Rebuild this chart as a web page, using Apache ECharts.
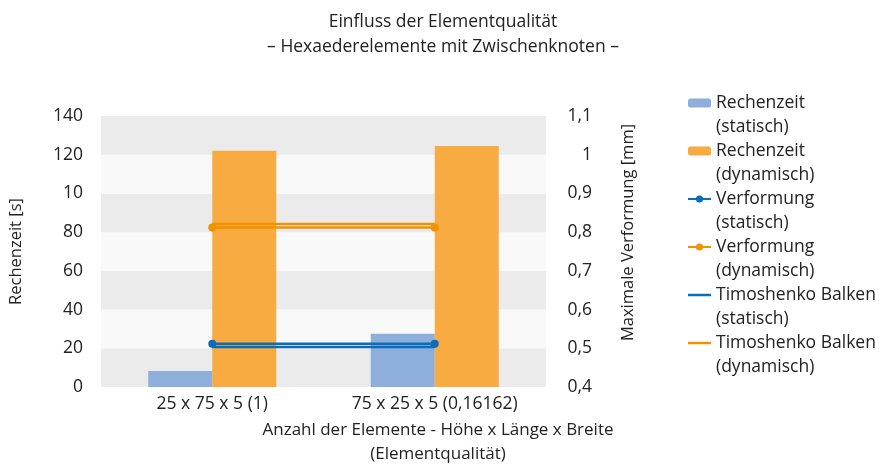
<!DOCTYPE html>
<html>
<head>
<meta charset="utf-8">
<script src="https://cdn.jsdelivr.net/npm/echarts@6/dist/echarts.min.js"></script>
<style>
  html, body { margin: 0; padding: 0; background: #fff; }
  #chart { width: 886px; height: 464px; }
</style>
</head>
<body>
<div id="chart"></div>
<script>
const categories = ["25 x 75 x 5 (1)", "75 x 25 x 5 (0,16162)"];
const zeitStatisch = [8.3, 27.5];
const zeitDynamisch = [122, 124.5];
const verformungStatisch = [0.512, 0.512];
const verformungDynamisch = [0.812, 0.812];
const timoshenkoStatisch = [0.503, 0.503];
const timoshenkoDynamisch = [0.821, 0.821];
const leftTicks = ["0", "20", "40", "60", "80", "10", "120", "140"];
const rightTicks = ["0,4", "0,5", "0,6", "0,7", "0,8", "0,9", "1", "1,1"];

const font = "Open Sans";
const textColor = "#222";
const blueBar = "#8eaedb";
const orangeBar = "#f7ab40";
const blueLine = "#0a6cba";
const orangeLine = "#f39200";
// plain line icon for the Timoshenko entries
const lineIcon = "path://M0,0H23V2.5H0Z";

const chart = echarts.init(document.getElementById("chart"));

chart.setOption({
  animation: false,
  textStyle: { fontFamily: font, color: textColor },
  title: [
    {
      text: "Einfluss der Elementqualität\n– Hexaederelemente mit Zwischenknoten –",
      left: "center",
      top: 5,
      textStyle: { fontSize: 17.5, fontWeight: "normal", color: textColor, lineHeight: 25, fontFamily: font }
    },
    {
      text: "Anzahl der Elemente - Höhe x Länge x Breite\n(Elementqualität)",
      left: 433,
      top: 413,
      textAlign: "center",
      textStyle: { fontSize: 17, fontWeight: "normal", color: textColor, lineHeight: 24, fontFamily: font }
    }
  ],
  legend: {
    orient: "vertical",
    left: 687,
    top: 67,
    padding: 0,
    itemGap: -24,
    itemWidth: 23,
    itemHeight: 9,
    textStyle: { fontSize: 17.5, lineHeight: 24, color: textColor, fontFamily: font },
    // blank first line so the icon sits next to the first text line
    formatter: (name) => "\n" + name.replace(" (", "\n("),
    data: [
      { name: "Rechenzeit (statisch)" },
      { name: "Rechenzeit (dynamisch)" },
      { name: "Verformung (statisch)" },
      { name: "Verformung (dynamisch)" },
      { name: "Timoshenko Balken (statisch)", icon: lineIcon },
      { name: "Timoshenko Balken (dynamisch)", icon: lineIcon }
    ]
  },
  grid: { left: 101, right: 340, top: 116, bottom: 77 },
  xAxis: {
    type: "category",
    data: categories,
    axisLine: { show: false },
    axisTick: { show: false },
    axisLabel: { fontSize: 17.5, color: textColor, margin: 8, fontFamily: font }
  },
  yAxis: [
    {
      type: "value",
      min: 0,
      max: 140,
      interval: 20,
      name: "Rechenzeit [s]",
      nameLocation: "middle",
      nameRotate: 90,
      nameGap: 76,
      nameTextStyle: { fontSize: 16.5, color: textColor, fontFamily: font },
      axisLine: { show: false },
      axisTick: { show: false },
      splitLine: { show: false },
      splitArea: { show: true, areaStyle: { color: ["#ebebeb", "#f9f9f9"] } },
      axisLabel: {
        fontSize: 17.5,
        color: textColor,
        margin: 18,
        fontFamily: font,
        formatter: (v) => leftTicks[Math.round(v / 20)]
      }
    },
    {
      type: "value",
      min: 0.4,
      max: 1.1,
      interval: 0.1,
      name: "Maximale Verformung [mm]",
      nameLocation: "middle",
      nameRotate: 90,
      nameGap: 74,
      nameTextStyle: { fontSize: 16.5, color: textColor, fontFamily: font, padding: [0, 0, 0, 38] },
      axisLine: { show: false },
      axisTick: { show: false },
      splitLine: { show: false },
      axisLabel: {
        fontSize: 17.5,
        color: textColor,
        margin: 46,
        align: "right",
        fontFamily: font,
        formatter: (v) => rightTicks[Math.round((v - 0.4) / 0.1)]
      }
    }
  ],
  series: [
    {
      name: "Rechenzeit (statisch)",
      type: "bar",
      data: zeitStatisch,
      barWidth: 64,
      barGap: "0%",
      itemStyle: { color: blueBar }
    },
    {
      name: "Rechenzeit (dynamisch)",
      type: "bar",
      data: zeitDynamisch,
      barWidth: 64,
      barGap: "0%",
      itemStyle: { color: orangeBar }
    },
    {
      name: "Verformung (statisch)",
      type: "line",
      yAxisIndex: 1,
      data: verformungStatisch,
      symbol: "circle",
      symbolSize: 8,
      lineStyle: { width: 2.5, color: blueLine },
      itemStyle: { color: blueLine }
    },
    {
      name: "Verformung (dynamisch)",
      type: "line",
      yAxisIndex: 1,
      data: verformungDynamisch,
      symbol: "circle",
      symbolSize: 8,
      lineStyle: { width: 2.5, color: orangeLine },
      itemStyle: { color: orangeLine }
    },
    {
      name: "Timoshenko Balken (statisch)",
      type: "line",
      yAxisIndex: 1,
      data: timoshenkoStatisch,
      symbol: "none",
      lineStyle: { width: 2.5, color: blueLine },
      itemStyle: { color: blueLine }
    },
    {
      name: "Timoshenko Balken (dynamisch)",
      type: "line",
      yAxisIndex: 1,
      data: timoshenkoDynamisch,
      symbol: "none",
      lineStyle: { width: 2.5, color: orangeLine },
      itemStyle: { color: orangeLine }
    }
  ]
});
</script>
</body>
</html>
